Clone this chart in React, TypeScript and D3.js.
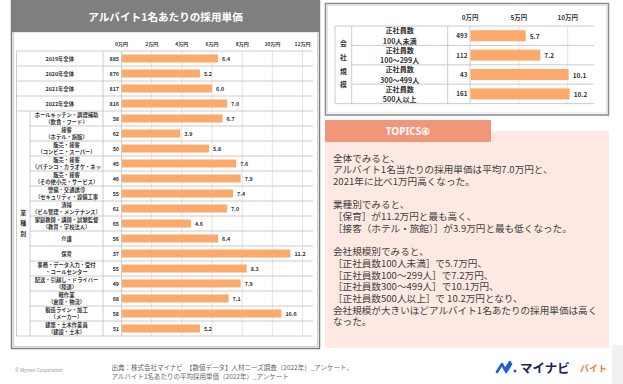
import { useEffect, useRef } from "react";
import * as d3 from "d3";

// 業種・年別の採用単価（左表）
const leftLabels: string[][] = [
  ["2019年全体"],
  ["2020年全体"],
  ["2021年全体"],
  ["2022年全体"],
  ["ホールキッチン・調理補助", "（飲食・フード）"],
  ["接客", "（ホテル・旅館）"],
  ["販売・接客", "（コンビニ・スーパー）"],
  ["販売・接客", "（パチンコ・カラオケ・ネッ"],
  ["販売・接客", "（その他小売・サービス）"],
  ["警備・交通誘導", "（セキュリティ・設備工事"],
  ["清掃", "（ビル管理・メンテナンス）"],
  ["家庭教師・講師・試験監督", "（教育・学校法人）"],
  ["介護"],
  ["保育"],
  ["事務・データ入力・受付", "・コールセンター"],
  ["配送・引越し・ドライバー", "（陸運）"],
  ["軽作業", "（倉庫・物流）"],
  ["製造ライン・加工", "（メーカー）"],
  ["建築・土木作業員", "（建設・土木）"],
];
const leftCounts = [885, 870, 817, 816, 58, 62, 50, 45, 46, 55, 61, 65, 56, 37, 55, 49, 68, 58, 51];
const leftValues = [6.4, 5.2, 6.0, 7.0, 6.7, 3.9, 5.8, 7.6, 7.9, 7.4, 7.0, 4.6, 6.4, 11.2, 8.3, 7.9, 7.1, 10.6, 5.2];
const leftTicks = [0, 2, 4, 6, 8, 10, 12];

// 会社規模別（右表）
const rightLabels: string[][] = [
  ["正社員数", "100人未満"],
  ["正社員数", "100～299人"],
  ["正社員数", "300～499人"],
  ["正社員数", "500人以上"],
];
const rightCounts = [493, 112, 43, 161];
const rightValues = [5.7, 7.2, 10.1, 10.2];
const rightTicks = [0, 5, 10];

const topicsLines = [
  "全体でみると、",
  "アルバイト1名当たりの採用単価は平均7.0万円と、",
  "2021年に比べ1万円高くなった。",
  "",
  "業種別でみると、",
  "［保育］が11.2万円と最も高く、",
  "［接客（ホテル・旅館）］が3.9万円と最も低くなった。",
  "",
  "会社規模別でみると、",
  "［正社員数100人未満］で5.7万円、",
  "［正社員数100～299人］で7.2万円、",
  "［正社員数300～499人］で10.1万円、",
  "［正社員数500人以上］で 10.2万円となり、",
  "会社規模が大きいほどアルバイト1名あたりの採用単価は高く",
  "なった。",
];

const FONT = "'Noto Sans CJK JP', 'Noto Sans', sans-serif";
const BAR = "#FBAA6C";
const GRID = "#dcdcdc";
const LINE = "#bfbfbf";
const TEXT = "#333";

function drawTable(
  g: d3.Selection<SVGGElement, unknown, null, undefined>,
  opt: {
    labels: string[][];
    counts: number[];
    values: number[];
    ticks: number[];
    x: d3.ScaleLinear<number, number>;
    y: d3.ScaleBand<string>;
    left: number;
    catRight: number;
    labelRight: number;
    gridRight: number;
    catFrom: number;
    catText: string[];
    catTextY: number[];
    barH: number;
    fs: { tick: number; label: number; count: number; value: number; cat: number };
    tickY: number;
    lineGap: number;
  }
) {
  const { x, y } = opt;
  const top = y.range()[0];
  const bottom = y.range()[1];
  const step = y.step();

  // grid
  g.selectAll(".grid")
    .data(opt.ticks)
    .enter()
    .append("line")
    .attr("x1", (d) => x(d))
    .attr("x2", (d) => x(d))
    .attr("y1", top)
    .attr("y2", bottom)
    .attr("stroke", (d) => (d === 0 ? LINE : GRID))
    .attr("stroke-width", 0.8);

  g.selectAll(".tick")
    .data(opt.ticks)
    .enter()
    .append("text")
    .attr("x", (d) => x(d))
    .attr("y", opt.tickY)
    .attr("text-anchor", "middle")
    .attr("dominant-baseline", "central")
    .style("font-size", `${opt.fs.tick}px`)
    .style("font-weight", 700)
    .style("fill", TEXT)
    .text((d) => `${d}万円`);

  // horizontal row lines
  const rows = d3.range(opt.labels.length + 1);
  g.selectAll(".hline")
    .data(rows)
    .enter()
    .append("line")
    .attr("x1", (i) => (i > opt.catFrom && i < opt.labels.length ? opt.catRight : opt.left))
    .attr("x2", opt.gridRight)
    .attr("y1", (i) => top + i * step)
    .attr("y2", (i) => top + i * step)
    .attr("stroke", LINE)
    .attr("stroke-width", 0.8);

  // vertical column lines
  const vlines: [number, number, number][] = [
    [opt.left, top, bottom],
    [opt.catRight, top + opt.catFrom * step, bottom],
    [opt.labelRight, top, bottom],
  ];
  g.selectAll(".vline")
    .data(vlines)
    .enter()
    .append("line")
    .attr("x1", (d) => d[0])
    .attr("x2", (d) => d[0])
    .attr("y1", (d) => d[1])
    .attr("y2", (d) => d[2])
    .attr("stroke", LINE)
    .attr("stroke-width", 0.8);

  // category vertical text
  g.selectAll(".cat")
    .data(opt.catText)
    .enter()
    .append("text")
    .attr("x", (opt.left + opt.catRight) / 2)
    .attr("y", (_, i) => opt.catTextY[i])
    .attr("text-anchor", "middle")
    .attr("dominant-baseline", "central")
    .style("font-size", `${opt.fs.cat}px`)
    .style("font-weight", 700)
    .style("fill", TEXT)
    .text((d) => d);

  const rowsG = g
    .selectAll(".row")
    .data(opt.values)
    .enter()
    .append("g")
    .attr("transform", (_, i) => `translate(0,${(y(String(i)) ?? 0) + step / 2})`);

  rowsG.each(function (_, i) {
    const r = d3.select(this);
    const lines = opt.labels[i];
    const cx = i < opt.catFrom ? (opt.left + opt.labelRight) / 2 : (opt.catRight + opt.labelRight) / 2;
    lines.forEach((t, k) => {
      r.append("text")
        .attr("x", cx)
        .attr("y", (k - (lines.length - 1) / 2) * opt.lineGap)
        .attr("text-anchor", "middle")
        .attr("dominant-baseline", "central")
        .style("font-size", `${opt.fs.label}px`)
        .style("font-weight", 700)
        .style("fill", TEXT)
        .text(t);
    });
  });

  rowsG
    .append("text")
    .attr("x", x(0) - 2.5)
    .attr("y", 0)
    .attr("text-anchor", "end")
    .attr("dominant-baseline", "central")
    .style("font-size", `${opt.fs.count}px`)
    .style("font-weight", 700)
    .style("fill", TEXT)
    .text((_, i) => opt.counts[i]);

  rowsG
    .append("rect")
    .attr("x", x(0) + 0.5)
    .attr("y", -opt.barH / 2)
    .attr("width", (d) => x(d) - x(0) - 0.5)
    .attr("height", opt.barH)
    .attr("fill", BAR);

  rowsG
    .append("text")
    .attr("x", (d) => x(d) + 4)
    .attr("y", 0)
    .attr("dominant-baseline", "central")
    .style("font-size", `${opt.fs.value}px`)
    .style("font-weight", 700)
    .style("fill", TEXT)
    .text((d) => d.toFixed(1));
}

export default function App() {
  const leftRef = useRef<SVGGElement>(null);
  const rightRef = useRef<SVGGElement>(null);

  useEffect(() => {
    if (!leftRef.current || !rightRef.current) return;
    const gl = d3.select(leftRef.current);
    gl.selectAll("*").remove();
    const xl = d3.scaleLinear().domain([0, 12]).range([121.5, 302.5]);
    const yl = d3
      .scaleBand()
      .domain(leftValues.map((_, i) => String(i)))
      .range([51, 336])
      .padding(0);
    drawTable(gl, {
      labels: leftLabels,
      counts: leftCounts,
      values: leftValues,
      ticks: leftTicks,
      x: xl,
      y: yl,
      left: 16.5,
      catRight: 30,
      labelRight: 103,
      gridRight: 313,
      catFrom: 4,
      catText: ["業", "種", "別"],
      catTextY: [212, 222.5, 233],
      barH: 8,
      fs: { tick: 5, label: 5.3, count: 5.4, value: 5.4, cat: 6 },
      tickY: 43.5,
      lineGap: 7.4,
    });

    const gr = d3.select(rightRef.current);
    gr.selectAll("*").remove();
    const xr = d3.scaleLinear().domain([0, 10]).range([470, 567.7]);
    const yr = d3
      .scaleBand()
      .domain(rightValues.map((_, i) => String(i)))
      .range([26, 103.6])
      .padding(0);
    drawTable(gr, {
      labels: rightLabels,
      counts: rightCounts,
      values: rightValues,
      ticks: rightTicks,
      x: xr,
      y: yr,
      left: 335,
      catRight: 351.7,
      labelRight: 447.7,
      gridRight: 594,
      catFrom: 0,
      catText: ["会", "社", "規", "模"],
      catTextY: [43, 57, 71, 84],
      barH: 11,
      fs: { tick: 6.4, label: 7.1, count: 6.3, value: 6.5, cat: 6.8 },
      tickY: 17,
      lineGap: 10.8,
    });
  }, []);

  return (
    <svg
      width={623}
      height={384}
      style={{ position: "absolute", left: 0, top: 0, display: "block", fontFamily: FONT }}
    >
      <rect x={0} y={0} width={623} height={384} fill="#fff" />
      <rect x={612} y={345} width={11} height={39} fill="#f1f1f1" />

      {/* 左パネル */}
      <rect x={11.5} y={0.5} width={308} height={348} fill="#fff" stroke="#7f7f7f" strokeWidth={1.5} />
      <rect x={13.5} y={32} width={304} height={314.5} fill="none" stroke="#c8c8c8" strokeWidth={0.8} />
      <rect x={11} y={0} width={309} height={32} fill="#7f7f7f" />
      <text x={165.5} y={16.5} textAnchor="middle" dominantBaseline="central" fill="#fff" fontSize={10.6} fontWeight={700}>
        アルバイト1名あたりの採用単価
      </text>
      <g ref={leftRef} />

      {/* 右パネル */}
      <rect x={325.5} y={3.5} width={283} height={111.5} fill="#fff" stroke="#8a8a8a" strokeWidth={1.5} />
      <rect x={327.5} y={5.5} width={279} height={107.5} fill="none" stroke="#d0d0d0" strokeWidth={0.6} />
      <g ref={rightRef} />

      {/* TOPICS */}
      <rect x={325} y={131} width={284} height={217} fill="#FDE9E1" />
      <rect x={325} y={120} width={166} height={22} fill="#F0967A" />
      <text x={408} y={131} textAnchor="middle" dominantBaseline="central" fill="#fff" fontSize={10} fontWeight={700} fontFamily="'Noto Sans', sans-serif">
        TOPICS④
      </text>
      {topicsLines.map((t, i) => (
        <text key={i} x={333} y={157.5 + i * 11.7} dominantBaseline="central" fill="#404040" fontSize={9.6}>
          {t}
        </text>
      ))}

      {/* フッター */}
      <text x={15} y={370} fill="#9a9a9a" fontSize={4.6} fontFamily="'Noto Sans', sans-serif" dominantBaseline="central">
        © Mynavi Corporation
      </text>
      <text x={111.5} y={367} fill="#666" fontSize={6.5} dominantBaseline="central">
        出典：株式会社マイナビ　【数値データ】人材ニーズ調査（2022年）_アンケート、
      </text>
      <text x={111.5} y={375.5} fill="#666" fontSize={6.5} dominantBaseline="central">
        アルバイト1名あたりの平均採用単価（2022年）_アンケート
      </text>

      {/* ロゴ */}
      <path d="M497,372 L502,364 L505,370 L510,362" fill="none" stroke="#1E5FD6" strokeWidth={2.6} strokeLinejoin="round" strokeLinecap="round" />
      <path d="M506,372 L511,364" fill="none" stroke="#1E5FD6" strokeWidth={2.6} strokeLinecap="round" />
      <circle cx={515} cy={371} r={1.5} fill="#1E5FD6" />
      <text x={520} y={367} fill="#1B2754" fontSize={12.5} fontWeight={700} dominantBaseline="central">
        マイナビ
      </text>
      <text x={580} y={368} fill="#F37A2A" fontSize={9} fontWeight={700} dominantBaseline="central">
        バイト
      </text>
    </svg>
  );
}
